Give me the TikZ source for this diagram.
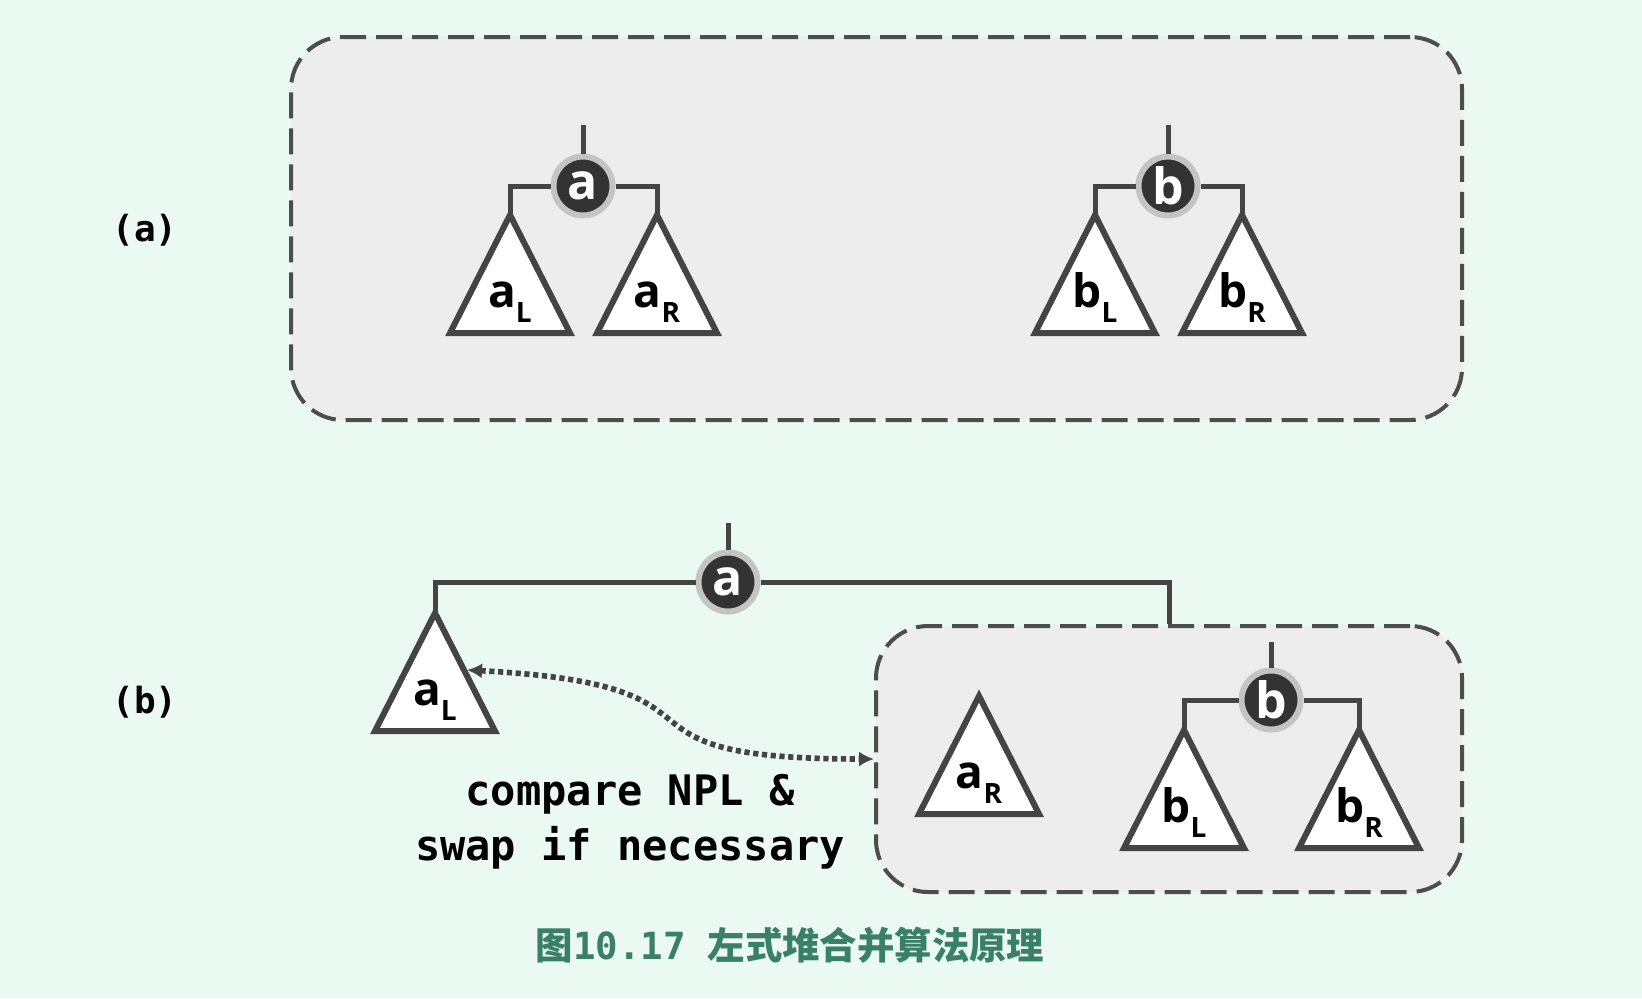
\documentclass[tikz,border=0pt]{standalone}
\usepackage{fontspec}
\usepackage{tikz}
\usetikzlibrary{arrows.meta}
\setmainfont{Open Sans}
\newfontfamily\monofont{DejaVu Sans Mono}
\newfontfamily\cjkfont{Noto Sans CJK SC}

\begin{document}
\begin{tikzpicture}[x=0.5pt, y=-0.5pt,
        heapnode/.style={circle, fill=nodecol, draw=ringcol, line width=3pt, minimum size=29.5pt, inner sep=0pt, text=white, font=\fontsize{25}{25}\selectfont\bfseries},
        link/.style={draw=linecol, line width=2.5pt},
        tri/.style={draw=linecol, fill=white, line width=3pt, line join=miter},
        heapbox/.style={draw=boxline, fill=boxfill, dash pattern=on 13pt off 5pt, line width=2pt, rounded corners=26pt},
        sublabel/.style={anchor=base, inner sep=0pt, font=\fontsize{23}{23}\selectfont\bfseries},
        swapline/.style={draw=linecol, line width=2.8pt, dash pattern=on 2.6pt off 1.8pt, {Latex[length=7.5pt,width=7.5pt]}-{Latex[length=7.5pt,width=7.5pt]}}]
            \xdefinecolor{bgcol}{RGB}{234, 249, 242}
            \xdefinecolor{boxfill}{RGB}{237, 237, 237}
            \xdefinecolor{boxline}{RGB}{77, 77, 77}
            \xdefinecolor{linecol}{RGB}{68, 68, 68}
            \xdefinecolor{nodecol}{RGB}{51, 51, 51}
            \xdefinecolor{ringcol}{RGB}{196, 196, 196}
            \xdefinecolor{capcol}{RGB}{58, 127, 104}

            % Background
            \fill[bgcol] (0,0) rectangle (1642,998);

            % Dashed boxes
            \node[heapbox, minimum width=585.5pt, minimum height=191.5pt] (boxA) at (876.5,228.5) {};
            \node[heapbox, minimum width=293pt, minimum height=133pt] (boxB) at (1169,759) {};

            % Draw the subtrees as triangles with labels
            \foreach \nm/\x/\y/\base/\sb in {aL/510/215/a/L, aR/657/215/a/R, bL/1095/215/b/L, bR/1242/215/b/R, aL2/435/613/a/L, aR2/979/696/a/R, bL2/1184/730/b/L, bR2/1359/730/b/R} {
                    \coordinate (\nm) at (\x,\y);
                    \coordinate (\nm-r) at (\x+32,\y+57);
                    \draw[tri] (\nm) -- ++(-60,118) -- ++(120,0) -- cycle;
                    \node[sublabel] (\nm-t) at (\x,\y+92) {\base\raisebox{-7.5pt}{\fontsize{14}{14}\selectfont\sb}};
                }

            % (a): two separate heaps
            \node[heapnode] (a1) at (583,186) {a};
            \node[heapnode] (b1) at (1168,186) {b};
            \coordinate (a1-in) at (583,125);
            \coordinate (b1-in) at (1168,125);
            \draw[link] (a1-in) -- (a1);
            \draw[link] (a1) -| (aL);
            \draw[link] (a1) -| (aR);
            \draw[link] (b1-in) -- (b1);
            \draw[link] (b1) -| (bL);
            \draw[link] (b1) -| (bR);

            % (b): a on top, right subtree merged with b
            \node[heapnode] (a2) at (728,582) {a};
            \coordinate (a2-in) at (728,523);
            \draw[link] (a2-in) -- (a2);
            \draw[link] (a2) -| (aL2);
            \draw[link] (a2) -| (boxB.north);

            \node[heapnode] (b2) at (1271,700) {b};
            \coordinate (b2-in) at (1271,642);
            \draw[link] (b2-in) -- (b2);
            \draw[link] (b2) -| (bL2);
            \draw[link] (b2) -| (bR2);

            % Swap arrow
            \draw[swapline] (aL2-r) to[out=-3, in=180, looseness=1.8] (boxB.west);

            % Add text
            \node[font=\monofont\bfseries\fontsize{18}{18}\selectfont] (labA) at (145,230) {(a)};
            \node[font=\monofont\bfseries\fontsize{18}{18}\selectfont] (labB) at (145,702) {(b)};
            \node[align=center, font=\monofont\bfseries\fontsize{21}{27.5}\selectfont] (note) at (630,822) {compare NPL \&\\swap if necessary};
            \node[text=capcol, font=\bfseries\fontsize{18.7}{18.7}\selectfont] (caption) at (790,945) {{\cjkfont 图}{\monofont 10.17}\hspace{11pt}{\cjkfont 左式堆合并算法原理}};

        \end{tikzpicture}
\end{document}
